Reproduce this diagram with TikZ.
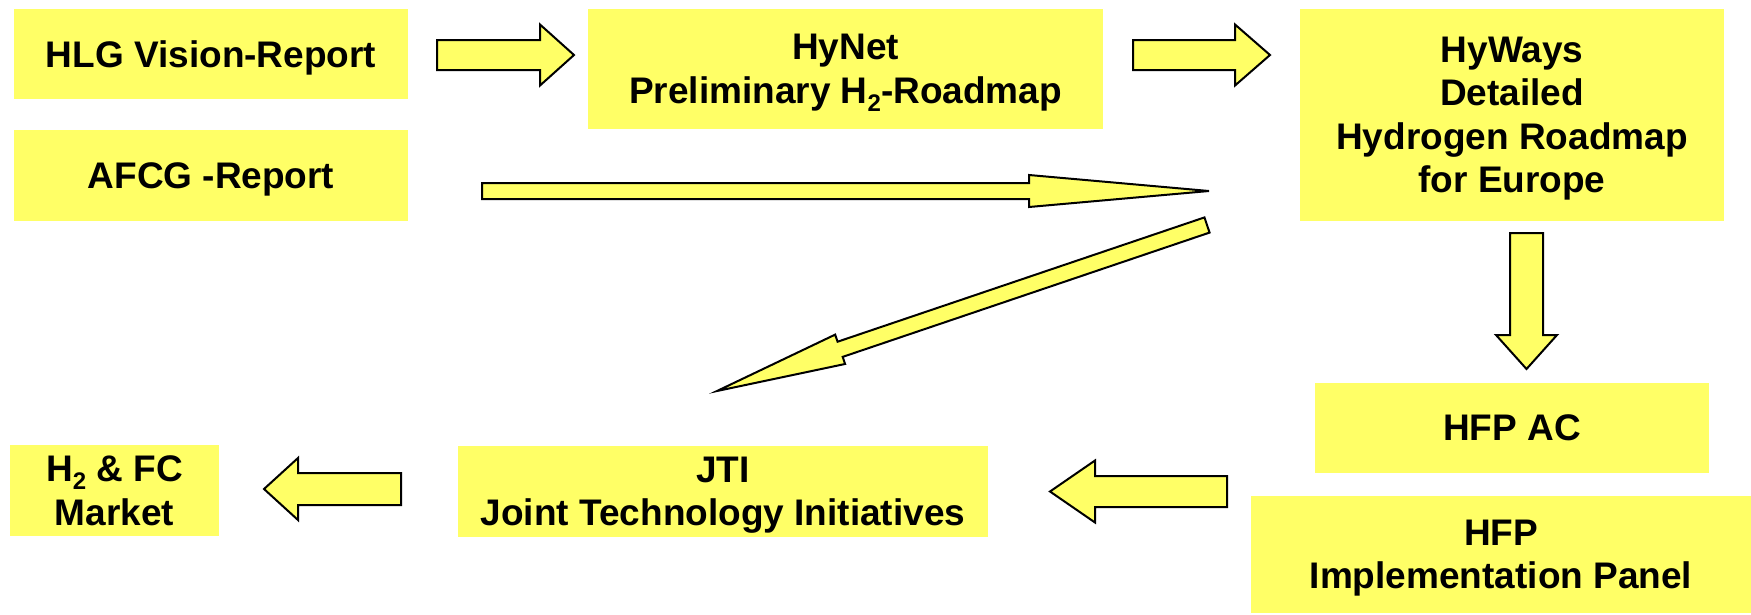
\documentclass[tikz,border=0pt]{standalone}
\usepackage{fontspec}
\setmainfont{Liberation Sans}
\usetikzlibrary{calc}
\definecolor{boxyellow}{HTML}{FFFF66}
% block arrow: tail, tip, shaft half width, head half width, head length
\newcommand\blockarrow[5]{%
  \coordinate (hb) at ($(#2)!#5!(#1)$);
  \draw[blockarrowstyle] ($(#1)!#3!90:(#2)$) -- ($(hb)!#3!90:(#2)$) -- ($(hb)!#4!90:(#2)$) -- (#2)
    -- ($(hb)!#4!-90:(#2)$) -- ($(hb)!#3!-90:(#2)$) -- ($(#1)!#3!-90:(#2)$) -- cycle;
}
\newcommand\subtwo{\raisebox{-8pt}{\fontsize{24}{24}\selectfont 2}}
\begin{document}
\begin{tikzpicture}[x=1pt,y=-1pt,
  box/.style={fill=boxyellow, draw=none, inner sep=0pt, align=center, text depth=0pt,
    font=\bfseries\fontsize{37}{43.5}\selectfont},
  blockarrowstyle/.style={draw=black, fill=boxyellow, line width=2pt, line join=miter}]
\useasboundingbox (0,0) rectangle (1751,614);

% boxes
\node[box, minimum width=394pt, minimum height=90pt] (hlg) at (211,54) {HLG Vision-Report};
\node[box, minimum width=394pt, minimum height=91pt] (afcg) at (211,175.5) {AFCG -Report};
\node[box, minimum width=515pt, minimum height=120pt] (hynet) at (845.5,69) {HyNet\\Preliminary H\subtwo-Roadmap};
\node[box, minimum width=424pt, minimum height=212pt] (hyways) at (1512,115) {HyWays\\Detailed\\Hydrogen Roadmap\\for Europe};
\node[box, minimum width=394pt, minimum height=90pt] (hfpac) at (1512,428) {HFP AC};
\node[box, minimum width=500pt, minimum height=117pt] (hfpip) at (1501,554.5) {HFP\\Implementation Panel};
\node[box, minimum width=530pt, minimum height=91pt] (jti) at (723,491.5) {JTI\\Joint Technology Initiatives};
\node[box, minimum width=209pt, minimum height=91pt] (market) at (114.5,490.5) {H\subtwo{} \& FC\\Market};

% arrow end points
\coordinate (a1t) at (437,55);    \coordinate (a1h) at (574,55);
\coordinate (a2t) at (1133,55);   \coordinate (a2h) at (1270,55);
\coordinate (a3t) at (482,191);   \coordinate (a3h) at (1209,191);
\coordinate (a4t) at (1207,225);  \coordinate (a4h) at (717,391);
\coordinate (a5t) at (1526.5,233);\coordinate (a5h) at (1526.5,369);
\coordinate (a6t) at (1227,491.5);\coordinate (a6h) at (1050,491.5);
\coordinate (a7t) at (401,489);   \coordinate (a7h) at (264,489);

\blockarrow{a1t}{a1h}{15pt}{30.5pt}{34pt}
\blockarrow{a2t}{a2h}{15pt}{30.5pt}{35pt}
\blockarrow{a3t}{a3h}{8pt}{16pt}{180pt}
\blockarrow{a4t}{a4h}{8pt}{15.5pt}{130pt}
\blockarrow{a5t}{a5h}{16.5pt}{30.5pt}{34pt}
\blockarrow{a6t}{a6h}{15.5pt}{31pt}{45pt}
\blockarrow{a7t}{a7h}{16pt}{31pt}{34pt}
\end{tikzpicture}
\end{document}
